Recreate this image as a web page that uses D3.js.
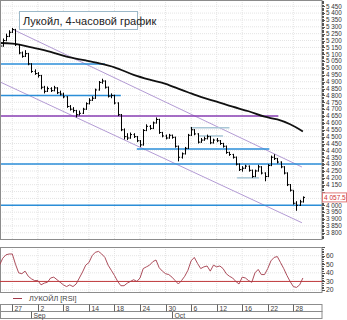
<!DOCTYPE html>
<html>
<head>
<meta charset="utf-8">
<script src="https://cdn.jsdelivr.net/npm/d3@7"></script>
<style>
  html, body { margin: 0; padding: 0; background: #fff; }
  svg { display: block; font-family: "Liberation Sans", Arial, sans-serif; }
</style>
</head>
<body>
<svg id="chart" width="347" height="320"></svg>
<script>
// --- data (4-hour bars, index 0..95) ---
const highs = [5180,5215,5250,5275,5292,5285,5175,5120,5130,5110,5035,4990,4970,4950,4870,4865,4860,4870,4860,4835,
  4820,4795,4730,4715,4695,4690,4710,4750,4780,4795,4850,4905,4922,4910,4865,4815,4805,4750,4665,4560,
  4525,4530,4525,4505,4475,4555,4590,4585,4610,4640,4630,4535,4515,4520,4515,4500,4435,4385,4425,4520,
  4570,4555,4525,4490,4500,4515,4505,4485,4490,4475,4455,4435,4390,4375,4355,4305,4285,4295,4290,4260,
  4260,4295,4285,4240,4300,4362,4372,4345,4320,4285,4240,4155,4110,4030,4040,4065];
const lows = [5150,5155,5195,5225,5255,5160,5100,5075,5080,5020,4965,4950,4930,4845,4815,4825,4825,4830,4810,4800,
  4780,4710,4690,4675,4640,4655,4665,4695,4735,4760,4775,4835,4885,4850,4785,4780,4735,4650,4540,4480,
  4475,4485,4490,4460,4425,4435,4540,4550,4555,4595,4520,4495,4480,4485,4485,4420,4320,4340,4370,4410,
  4505,4510,4450,4455,4470,4480,4445,4450,4460,4440,4420,4375,4360,4340,4290,4250,4245,4265,4245,4200,
  4205,4245,4225,4175,4205,4285,4330,4305,4270,4225,4140,4100,4005,3960,3995,4020];
const closes = [5160,5200,5230,5260,5280,5170,5110,5085,5105,5030,4975,4960,4945,4860,4830,4850,4835,4855,4820,4810,
  4790,4720,4700,4690,4660,4670,4700,4740,4765,4780,4840,4895,4905,4860,4795,4800,4745,4660,4550,4500,
  4490,4515,4500,4470,4440,4545,4575,4560,4600,4625,4530,4505,4490,4510,4495,4430,4350,4375,4415,4510,
  4550,4520,4460,4475,4485,4500,4455,4475,4470,4450,4430,4385,4370,4350,4300,4260,4270,4285,4255,4210,
  4250,4280,4235,4210,4290,4350,4340,4315,4280,4235,4150,4110,4015,4000,4025,4057.5];

// moving average (read at selected bars)
const maIdx = [0,4,10,16,21,27,31,36,42,47,52,57,60,63,68,73,78,83,87,91,95];
const maVal = [5182,5178,5150,5118,5082,5055,5035,5005,4950,4915,4885,4840,4815,4790,4755,4718,4685,4645,4625,4590,4538];

// RSI
const rsi = [49,57,61,62,62,50,40,39,42,36,33,31,31,26,28,29,34,35,32,29,
  26,24,26,24,27,34,41,49,52,60,64,65,62,58,49,43,37,30,25,25,
  28,30,32,30,34,45,47,49,53,55,46,42,39,38,35,31,27,31,36,43,
  54,58,51,45,47,48,42,49,47,48,45,39,36,34,30,27,35,34,31,29,
  40,44,38,38,45,54,58,59,52,45,37,30,24,23,26,34];
const rsiLevel = 30;

// horizontal levels: price, from bar, to bar, kind
const levelPrice = [5030, 4800, 4650, 4410, 4300, 4000, 4565, 4505, 4200];
const levelFrom  = [-2, -2, -2, 43, -2, -2, 59.7, 62.5, 74.4];
const levelTo    = [33, 38, 87.3, 84.5, 110, 110, 72, 70, 81.3];
const levelKind  = ['blue','blue','purple','blue','blue','blue','light','light','light'];

// channel lines: [bar0, price0, bar1, price1]
const channels = [[4.1, 5282, 94.7, 4279], [-1, 4911, 94.7, 3873]];

// date axis
const tickIdx = [4,12,20,28,36,44,52,60,68,76,84,92];
const tickLabels = ['27','2','8','14','18','24','30','6','12','16','22','28'];
const monthIdx = [10, 54];
const monthLabels = ['Sep', 'Oct'];

const priceTicks = d3.range(3800, 5451, 50);
const rsiTicks = [20, 30, 40, 50, 60];

const title = 'Лукойл, 4-часовой график';
const lastLabel = '4 057.5';

// --- layout ---
const svg = d3.select('#chart');
const plotL = 0, plotR = 322;
const mainTop = 0, mainBot = 239;
const rsiTop = 247, rsiBot = 292;

const x = d3.scaleLinear().domain([4, 92]).range([12.3, 293.3]);
const y = d3.scaleLinear().domain([4000, 5000]).range([205.3, 68]);
const yr = d3.scaleLinear().domain([20, 60]).range([290, 255.7]);

const fmt = v => d3.format(',')(v).replace(/,/g, ' ');

svg.append('defs').html(`
  <clipPath id="clipMain"><rect x="${plotL}" y="${mainTop}" width="${plotR - plotL}" height="${mainBot - mainTop}"/></clipPath>
  <clipPath id="clipRsi"><rect x="${plotL}" y="${rsiTop}" width="${plotR - plotL}" height="${rsiBot - rsiTop}"/></clipPath>`);

// grid
const grid = svg.append('g').attr('stroke', '#e4e4e4').attr('stroke-dasharray', '1,1');
priceTicks.forEach(v => {
  if (y(v) > mainTop && y(v) < mainBot)
    grid.append('line').attr('x1', plotL).attr('x2', plotR).attr('y1', y(v)).attr('y2', y(v));
});
rsiTicks.forEach(v => {
  grid.append('line').attr('x1', plotL).attr('x2', plotR).attr('y1', yr(v)).attr('y2', yr(v));
});
tickIdx.forEach(i => {
  grid.append('line').attr('x1', x(i)).attr('x2', x(i)).attr('y1', mainTop).attr('y2', mainBot);
  grid.append('line').attr('x1', x(i)).attr('x2', x(i)).attr('y1', rsiTop).attr('y2', rsiBot);
});

const main = svg.append('g').attr('clip-path', 'url(#clipMain)');

// channel lines
channels.forEach(c => {
  main.append('line')
    .attr('x1', x(c[0])).attr('y1', y(c[1]))
    .attr('x2', x(c[2])).attr('y2', y(c[3]))
    .attr('stroke', '#b39bd4').attr('stroke-width', 1);
});

// levels
const levelColor = { blue: '#2b8ed8', purple: '#8a3fb4', light: '#a9c7d6' };
levelPrice.forEach((p, k) => {
  main.append('line')
    .attr('x1', x(levelFrom[k])).attr('x2', x(levelTo[k]))
    .attr('y1', y(p)).attr('y2', y(p))
    .attr('stroke', levelColor[levelKind[k]])
    .attr('stroke-width', 1.5);
});

// moving average
main.append('path')
  .datum(maIdx.map((i, k) => [i, maVal[k]]))
  .attr('fill', 'none').attr('stroke', '#111').attr('stroke-width', 1.8)
  .attr('d', d3.line().x(d => x(d[0])).y(d => y(d[1])).curve(d3.curveMonotoneX));

// OHLC bars
const bars = main.append('g').attr('stroke', '#000').attr('stroke-width', 1);
closes.forEach((c, i) => {
  const o = i === 0 ? c : closes[i - 1];
  const cx = Math.round(x(i)) + 0.5;
  bars.append('line').attr('x1', cx).attr('x2', cx).attr('y1', y(highs[i])).attr('y2', y(lows[i]));
  bars.append('line').attr('x1', cx - 1).attr('x2', cx).attr('y1', y(o)).attr('y2', y(o));
  bars.append('line').attr('x1', cx).attr('x2', cx + 1.5).attr('y1', y(c)).attr('y2', y(c));
});

// title box
svg.append('rect').attr('x', 19.5).attr('y', 11.5).attr('width', 118).attr('height', 18)
  .attr('fill', '#fff').attr('stroke', '#9cb9c9');
svg.append('text').attr('x', 23).attr('y', 24.5).attr('font-size', 11).attr('fill', '#222').text(title);

// frames
svg.append('rect').attr('x', plotL + 0.5).attr('y', mainTop + 0.5)
  .attr('width', plotR - plotL - 0.5).attr('height', mainBot - mainTop)
  .attr('fill', 'none').attr('stroke', '#8c8c8c');
svg.append('rect').attr('x', plotL + 0.5).attr('y', rsiTop + 0.5)
  .attr('width', plotR - plotL - 0.5).attr('height', rsiBot - rsiTop)
  .attr('fill', 'none').attr('stroke', '#8c8c8c');

// price axis
const lp = closes[closes.length - 1];
const ax = svg.append('g').attr('font-size', 6.3).attr('fill', '#333');
d3.range(3760, 5500, 10).forEach(v => {
  const yy = Math.round(y(v)) + 0.5;
  if (yy < mainTop || yy > mainBot) return;
  const major = v % 50 === 0;
  ax.append('line').attr('x1', plotR).attr('x2', plotR + (major ? 3 : 2))
    .attr('y1', yy).attr('y2', yy).attr('stroke', '#555');
});
priceTicks.forEach(v => {
  if (Math.abs(y(v) - y(lp)) < 6) return; // hidden under the last-price label
  ax.append('text').attr('x', plotR + 4).attr('y', y(v) + 2.3).text(fmt(v));
});

// last price label
svg.append('rect').attr('x', plotR + 0.5).attr('y', y(lp) - 4.5).attr('width', 24).attr('height', 9)
  .attr('fill', '#fff').attr('stroke', '#e07a7a');
svg.append('text').attr('x', plotR + 2).attr('y', y(lp) + 2.4).attr('font-size', 6.5)
  .attr('fill', '#d03030').text(lastLabel);

// RSI panel
const rp = svg.append('g').attr('clip-path', 'url(#clipRsi)');
rp.append('line').attr('x1', plotL).attr('x2', plotR).attr('y1', yr(rsiLevel)).attr('y2', yr(rsiLevel))
  .attr('stroke', '#c0393b').attr('stroke-width', 1);
rp.append('path').datum(rsi)
  .attr('fill', 'none').attr('stroke', '#a33a4a').attr('stroke-width', 0.9)
  .attr('d', d3.line().x((d, i) => x(i)).y(d => yr(d)));

const rax = svg.append('g').attr('font-size', 6.8).attr('fill', '#333');
d3.range(18, 71, 2).forEach(v => {
  const yy = Math.round(yr(v)) + 0.5;
  if (yy < rsiTop || yy > rsiBot) return;
  rax.append('line').attr('x1', plotR).attr('x2', plotR + (v % 10 === 0 ? 3 : 2))
    .attr('y1', yy).attr('y2', yy).attr('stroke', '#555');
});
rsiTicks.forEach(v => {
  rax.append('text').attr('x', plotR + 4).attr('y', yr(v) + 2.4).text(v);
});

// legend
svg.append('line').attr('x1', 13).attr('x2', 22).attr('y1', 298.5).attr('y2', 298.5)
  .attr('stroke', '#a33a4a');
svg.append('text').attr('x', 29).attr('y', 301).attr('font-size', 7.3).attr('fill', '#444')
  .text('ЛУКОЙЛ [RSI]');

// date axis
const da = svg.append('g').attr('font-size', 6.8).attr('fill', '#444');
da.append('rect').attr('x', 0.5).attr('y', 304.5).attr('width', plotR - 0.5).attr('height', 7)
  .attr('fill', '#fff').attr('stroke', '#8c8c8c');
da.append('rect').attr('x', 0.5).attr('y', 311.5).attr('width', plotR - 0.5).attr('height', 7)
  .attr('fill', '#fff').attr('stroke', '#8c8c8c');
tickIdx.forEach((i, k) => {
  const xx = Math.round(x(i)) + 0.5;
  da.append('line').attr('x1', xx).attr('x2', xx).attr('y1', 304.5).attr('y2', 311.5).attr('stroke', '#666');
  da.append('text').attr('x', xx + 2).attr('y', 310.5).text(tickLabels[k]);
});
monthIdx.forEach((i, k) => {
  const xx = Math.round(x(i)) + 0.5;
  da.append('line').attr('x1', xx).attr('x2', xx).attr('y1', 311.5).attr('y2', 318.5).attr('stroke', '#666');
  da.append('text').attr('x', xx + 2).attr('y', 317.5).text(monthLabels[k]);
});
</script>
</body>
</html>
